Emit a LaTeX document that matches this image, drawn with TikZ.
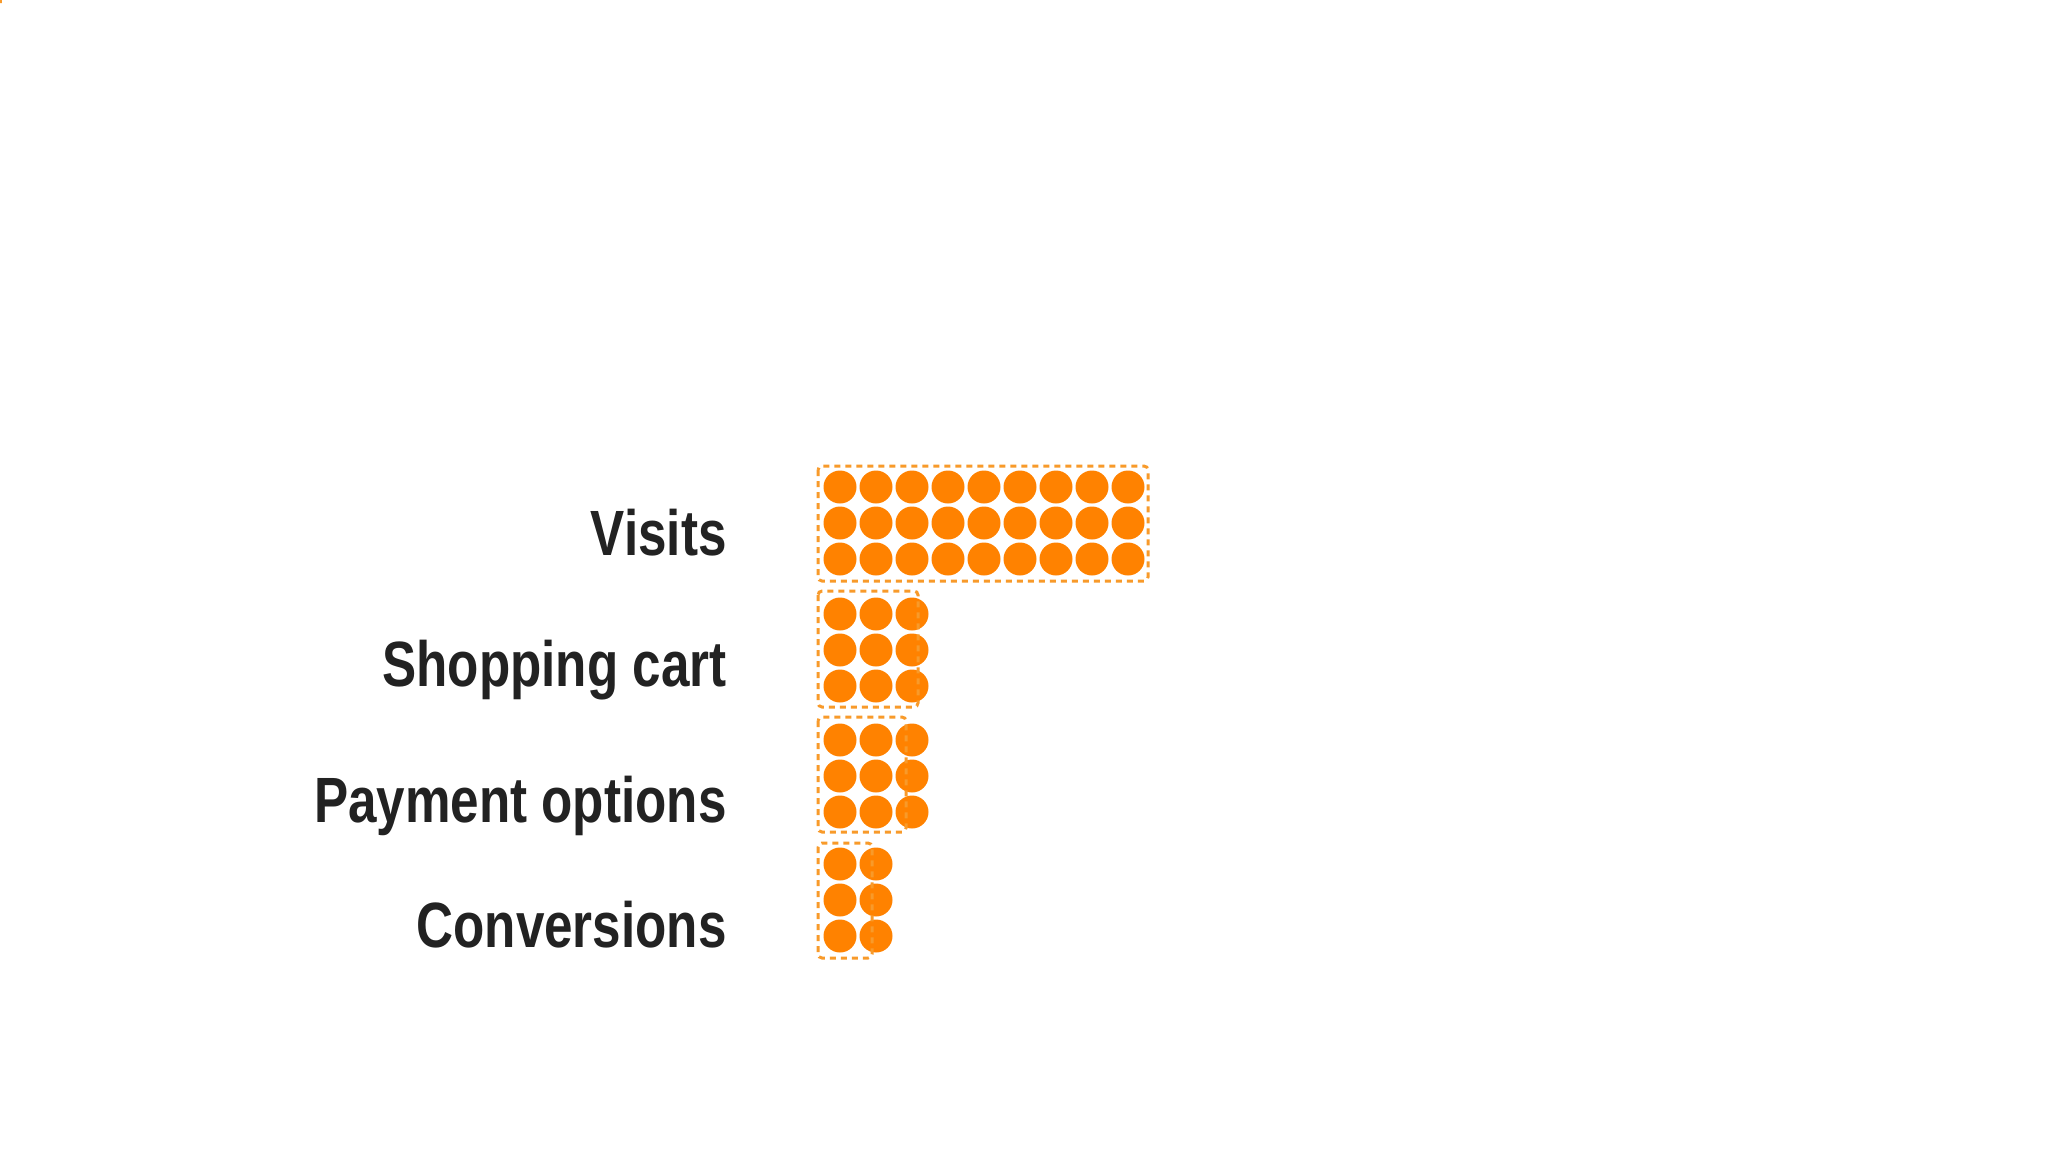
\documentclass[tikz,border=0pt]{standalone}
\usepackage{fontspec}
\setmainfont{Liberation Sans}[FakeStretch=0.8]
\definecolor{dot}{HTML}{FF8200}
\definecolor{dash}{HTML}{F89A2A}
\definecolor{txt}{HTML}{222222}
\begin{document}
\begin{tikzpicture}[x=0.5pt,y=-0.5pt,
  dotc/.style={fill=dot,draw=none},
  grp/.style={draw=dash,line width=1.5pt,dash pattern=on 3pt off 2.5pt,rounded corners=2pt},
  lab/.style={anchor=east,text=txt,font=\fontsize{32}{36}\selectfont\bfseries,inner sep=0pt}]
\useasboundingbox (0,0) rectangle (2048,1152);
\fill[white] (0,0) rectangle (2048,1152);
% dots
\foreach \r in {0,1,2}{
  \foreach \c in {0,...,8}{\fill[dotc] (840+36*\c,487+36*\r) circle (16.5);}
  \foreach \c in {0,1,2}{\fill[dotc] (840+36*\c,614+36*\r) circle (16.5);}
  \foreach \c in {0,1,2}{\fill[dotc] (840+36*\c,740+36*\r) circle (16.5);}
  \foreach \c in {0,1}{\fill[dotc] (840+36*\c,864+36*\r) circle (16.5);}
}
\node[grp,draw,inner sep=0pt,minimum width=0pt] (gv) at (0,0) {};
\draw[grp] (818,466) rectangle (1148,581);
\draw[grp] (818,591) rectangle (918,707);
\draw[grp] (818,717) rectangle (906,832);
\draw[grp] (818,843) rectangle (872,958);
\node[lab] (visits) at (727,533) {Visits};
\node[lab] (cart) at (727,670) {Shopping cart};
\node[lab] (pay) at (727,806) {Payment options};
\node[lab] (conv) at (727,925) {Conversions};
\end{tikzpicture}
\end{document}
